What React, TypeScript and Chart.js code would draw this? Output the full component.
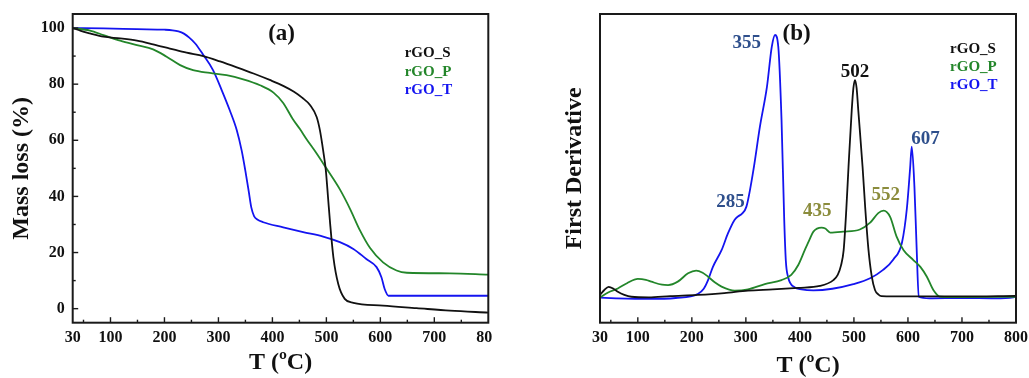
import React, { useEffect, useRef } from "react";
import { Chart, registerables } from "chart.js";

Chart.register(...registerables);

const SERIF = "'Liberation Serif', 'Times New Roman', serif";

// ---------- Panel (a): TGA mass loss (%) ----------
const tgaTempS = [30, 45, 62, 87, 118, 149, 179, 210, 241, 272, 303, 334, 365, 395, 420, 440, 455, 470, 482, 488, 494, 499, 503, 507, 513, 522, 534, 550, 605, 667, 729, 800];
const tgaMassS = [100, 99.0, 98.1, 96.9, 96.3, 95.5, 94.2, 92.7, 91.2, 90.0, 88.1, 86.0, 83.8, 81.5, 79.4, 77.3, 75.2, 72.5, 68.3, 63.6, 56.4, 49.3, 39.8, 30.2, 18.3, 8.8, 3.5, 2.1, 1.1, 0.2, -0.7, -1.4];

const tgaTempP = [30, 62, 87, 118, 149, 179, 204, 229, 253, 284, 315, 346, 377, 402, 420, 438, 451, 463, 482, 500, 525, 544, 562, 581, 605, 630, 649, 729, 800];
const tgaMassP = [100, 99.1, 97.5, 95.5, 93.9, 92.4, 89.8, 86.8, 85.0, 84.0, 83.2, 81.7, 79.6, 77.0, 73.3, 67.5, 64.0, 60.5, 55.3, 50.0, 42.5, 35.5, 28.0, 21.6, 16.5, 13.6, 12.8, 12.6, 12.1];

const tgaTempT = [30, 87, 149, 200, 215, 226, 236, 246, 257, 272, 290, 306, 321, 334, 343, 350, 356, 361, 366, 372, 383, 420, 457, 494, 525, 550, 574, 593, 602, 608, 615, 700, 800];
const tgaMassT = [100, 99.9, 99.6, 99.4, 99.2, 98.8, 98.0, 96.6, 94.5, 90.4, 85.0, 77.9, 70.7, 63.6, 56.4, 49.0, 42.0, 36.0, 33.0, 31.8, 30.8, 29.0, 27.3, 25.7, 23.7, 21.3, 17.7, 14.8, 11.2, 7.0, 4.6, 4.6, 4.6];

// ---------- Panel (b): first derivative (arbitrary units) ----------
const dtgTempS = [30, 38, 46, 55, 63, 75, 88, 120, 160, 211, 260, 304, 350, 397, 437, 462, 470, 476, 481, 486, 490, 496, 499, 502, 505, 508, 516, 521, 527, 533, 539, 545, 551, 600, 700, 800];
const dtgS = [9.0, 10.6, 11.6, 11.0, 10.0, 9.0, 8.4, 8.2, 8.6, 9.0, 9.6, 10.4, 10.8, 11.3, 11.9, 13.8, 15.5, 18.5, 23.5, 37, 50.5, 69, 76, 78.6, 76, 69, 50.5, 37, 23.5, 15, 10.6, 9.2, 8.6, 8.5, 8.5, 8.7];

const dtgTempP = [30, 45, 63, 80, 100, 115, 125, 145, 156, 174, 193, 208, 220, 230, 243, 255, 279, 304, 335, 366, 384, 397, 409, 418, 425, 440, 447, 456, 480, 511, 530, 545, 555, 567, 579, 592, 610, 623, 635, 647, 660, 700, 800];
const dtgP = [8.2, 9.8, 11.1, 12.8, 14.2, 13.9, 13.3, 12.3, 12.2, 13.3, 16.0, 16.9, 16.2, 14.9, 13.0, 11.7, 10.4, 10.8, 12.5, 13.8, 15.5, 18.7, 23.5, 27.0, 29.5, 30.8, 30.5, 29.2, 29.5, 30.2, 32.4, 35.5, 36.3, 34.3, 27.9, 23.5, 20.3, 18.1, 14.9, 10.6, 8.4, 8.3, 8.4];

const dtgTempT = [30, 60, 119, 170, 211, 222, 230, 239, 255, 267, 279, 286, 292, 301, 314, 326, 339, 348, 354, 360, 366, 371, 374, 378, 390, 403, 425, 460, 499, 530, 554, 573, 589, 598, 604, 607, 612, 616, 620, 640, 700, 760, 795, 800];
const dtgT = [8.1, 7.9, 7.7, 8.0, 9.3, 11.0, 13.8, 18.1, 23.5, 29.0, 33.3, 34.5, 35.2, 37.6, 49.5, 63.5, 76.4, 89.4, 93.2, 89.4, 65.7, 33.3, 20.0, 14.9, 11.5, 10.8, 10.5, 11.0, 12.5, 14.4, 17.1, 20.5, 26.0, 37.0, 50.0, 57.0, 44.0, 24.6, 8.4, 7.9, 8.0, 7.9, 8.2, 8.6];

// ---------- labels and ticks ----------
const seriesNames = ["rGO_S", "rGO_P", "rGO_T"];
const xTickValues = [30, 100, 200, 300, 400, 500, 600, 700, 800];
const xMajorMarks = [100, 200, 300, 400, 500, 600, 700];
const xMinorMarks = [50, 150, 250, 350, 450, 550, 650, 750];
const yTickValuesA = [0, 20, 40, 60, 80, 100];
const yMinorMarksA = [10, 30, 50, 70, 90];
const peakTexts = ["355", "285", "502", "435", "552", "607"];

const lineColors = ["#111111", "#23862a", "#1414f0"];
const peakColors = ["#2e4f8c", "#2e4f8c", "#111111", "#8b8c3c", "#8b8c3c", "#2e4f8c"];

// annotation placement (data coordinates)
const legendA = { x: 645, ys: [91.1, 84.4, 77.9] };
const legendB = { x: 678, ys: [88.7, 82.7, 76.8] };
const peakPos = [
  { x: 301.7, y: 90.6 },
  { x: 271.7, y: 39.2 },
  { x: 502, y: 81.3 },
  { x: 432, y: 36.0 },
  { x: 559, y: 41.3 },
  { x: 632.5, y: 59.4 },
];

type Note = { text: string; x: number; y: number; color: string; size: number; align?: CanvasTextAlign };

function pts(xs: number[], ys: number[]) {
  return xs.map((x, i) => ({ x, y: ys[i] }));
}

function makeDecor(opts: {
  xMajor: number[]; xMinor: number[]; yMajor: number[]; yMinor: number[]; notes: Note[];
}) {
  return {
    id: "decor",
    afterDatasetsDraw(chart: any) {
      const { ctx, chartArea: a, scales } = chart;
      const xs = scales.x, ys = scales.y;
      ctx.save();
      ctx.strokeStyle = "#1a1a1a";
      ctx.lineWidth = 1.4;
      const tickX = (vals: number[], len: number) =>
        vals.forEach((v) => {
          const p = xs.getPixelForValue(v);
          ctx.beginPath();
          ctx.moveTo(p, a.bottom);
          ctx.lineTo(p, a.bottom - len);
          ctx.stroke();
        });
      const tickY = (vals: number[], len: number) =>
        vals.forEach((v) => {
          const p = ys.getPixelForValue(v);
          ctx.beginPath();
          ctx.moveTo(a.left, p);
          ctx.lineTo(a.left + len, p);
          ctx.stroke();
        });
      tickX(opts.xMajor, 5.5);
      tickX(opts.xMinor, 3);
      tickY(opts.yMajor, 5.5);
      tickY(opts.yMinor, 3);
      ctx.lineWidth = 2;
      ctx.strokeStyle = "#1a1a1a";
      ctx.strokeRect(a.left, a.top, a.right - a.left, a.bottom - a.top);
      opts.notes.forEach((n) => {
        ctx.font = `bold ${n.size}px ${SERIF}`;
        ctx.fillStyle = n.color;
        ctx.textAlign = n.align || "center";
        ctx.textBaseline = "middle";
        ctx.fillText(n.text, xs.getPixelForValue(n.x), ys.getPixelForValue(n.y));
      });
      ctx.restore();
    },
  };
}

function noPad(s: any) {
  s.paddingLeft = 0;
  s.paddingRight = 0;
  s.paddingTop = 0;
  s.paddingBottom = 0;
}

function xScale(titlePadBottom: number, axisHeight: number) {
  return {
    type: "linear",
    min: 30,
    max: 800,
    afterBuildTicks: (s: any) => {
      s.ticks = xTickValues.map((v) => ({ value: v }));
    },
    afterFit: (s: any) => {
      s.height = axisHeight;
      noPad(s);
    },
    grid: { display: false, drawTicks: false },
    border: { display: false },
    ticks: {
      autoSkip: false,
      maxRotation: 0,
      padding: 6,
      color: "#111",
      font: { family: SERIF, size: 16, weight: "bold" },
      callback: (v: any) => String(v),
    },
    title: {
      display: true,
      text: "T (ºC)",
      color: "#111",
      font: { family: SERIF, size: 24, weight: "bold", lineHeight: 1.2 },
      padding: { top: 0, bottom: titlePadBottom },
    },
  };
}

export default function App() {
  const refA = useRef<HTMLCanvasElement>(null);
  const refB = useRef<HTMLCanvasElement>(null);

  useEffect(() => {
    const common = {
      responsive: false,
      animation: false,
      events: [],
      plugins: { legend: { display: false }, tooltip: { enabled: false } },
      elements: { point: { radius: 0 }, line: { borderWidth: 1.8 } },
    };

    const notesA: Note[] = [
      { text: "(a)", x: 417, y: 97.9, color: "#111", size: 23 },
      ...seriesNames.map((s, i) => ({
        text: s, x: legendA.x, y: legendA.ys[i], color: lineColors[i], size: 15, align: "left" as CanvasTextAlign,
      })),
    ];

    const chartA = new Chart(refA.current!, {
      type: "line",
      data: {
        datasets: [
          { label: seriesNames[0], data: pts(tgaTempS, tgaMassS), borderColor: lineColors[0], cubicInterpolationMode: "monotone" },
          { label: seriesNames[1], data: pts(tgaTempP, tgaMassP), borderColor: lineColors[1], cubicInterpolationMode: "monotone" },
          { label: seriesNames[2], data: pts(tgaTempT, tgaMassT), borderColor: lineColors[2], cubicInterpolationMode: "monotone" },
        ],
      },
      options: {
        ...common,
        layout: { autoPadding: false, padding: { left: 0, right: 3.7, top: 14, bottom: 0 } },
        scales: {
          x: xScale(0.6, 55.3),
          y: {
            type: "linear",
            min: -5,
            max: 105,
            afterBuildTicks: (s: any) => {
              s.ticks = yTickValuesA.map((v) => ({ value: v }));
            },
            afterFit: (s: any) => {
              s.width = 72.7;
              noPad(s);
            },
            grid: { display: false, drawTicks: false },
            border: { display: false },
            ticks: { padding: 8, color: "#111", font: { family: SERIF, size: 16, weight: "bold" } },
            title: {
              display: true,
              text: "Mass loss (%)",
              color: "#111",
              font: { family: SERIF, size: 24, weight: "bold", lineHeight: 1.2 },
              padding: { top: 7.5, bottom: 0 },
            },
          },
        },
      },
      plugins: [makeDecor({ xMajor: xMajorMarks, xMinor: xMinorMarks, yMajor: yTickValuesA, yMinor: yMinorMarksA, notes: notesA })],
    } as any);

    const notesB: Note[] = [
      { text: "(b)", x: 394, y: 93.5, color: "#111", size: 23 },
      ...seriesNames.map((s, i) => ({
        text: s, x: legendB.x, y: legendB.ys[i], color: lineColors[i], size: 15, align: "left" as CanvasTextAlign,
      })),
      ...peakTexts.map((t, i) => ({ text: t, x: peakPos[i].x, y: peakPos[i].y, color: peakColors[i], size: 19 })),
    ];

    const chartB = new Chart(refB.current!, {
      type: "line",
      data: {
        datasets: [
          { label: seriesNames[0], data: pts(dtgTempS, dtgS), borderColor: lineColors[0], cubicInterpolationMode: "monotone" },
          { label: seriesNames[1], data: pts(dtgTempP, dtgP), borderColor: lineColors[1], cubicInterpolationMode: "monotone" },
          { label: seriesNames[2], data: pts(dtgTempT, dtgT), borderColor: lineColors[2], cubicInterpolationMode: "monotone" },
        ],
      },
      options: {
        ...common,
        layout: { autoPadding: false, padding: { left: 0, right: 13, top: 14, bottom: 0 } },
        scales: {
          x: xScale(-2.4, 55.3),
          y: {
            type: "linear",
            min: 0,
            max: 100,
            afterFit: (s: any) => {
              s.width = 108;
              noPad(s);
            },
            grid: { display: false, drawTicks: false },
            border: { display: false },
            ticks: { display: false },
            title: {
              display: true,
              text: "First Derivative",
              color: "#111",
              font: { family: SERIF, size: 24, weight: "bold", lineHeight: 1.2 },
              padding: { top: 68.2, bottom: 0 },
            },
          },
        },
      },
      plugins: [makeDecor({ xMajor: xMajorMarks, xMinor: xMinorMarks, yMajor: [], yMinor: [], notes: notesB })],
    } as any);

    return () => {
      chartA.destroy();
      chartB.destroy();
    };
  }, []);

  return (
    <div style={{ position: "absolute", left: 0, top: 0, width: 1029, height: 378, background: "#fff", overflow: "hidden" }}>
      <canvas ref={refA} width={492} height={378} style={{ position: "absolute", left: 0, top: 0, width: 492, height: 378 }} />
      <canvas ref={refB} width={537} height={378} style={{ position: "absolute", left: 492, top: 0, width: 537, height: 378 }} />
    </div>
  );
}
